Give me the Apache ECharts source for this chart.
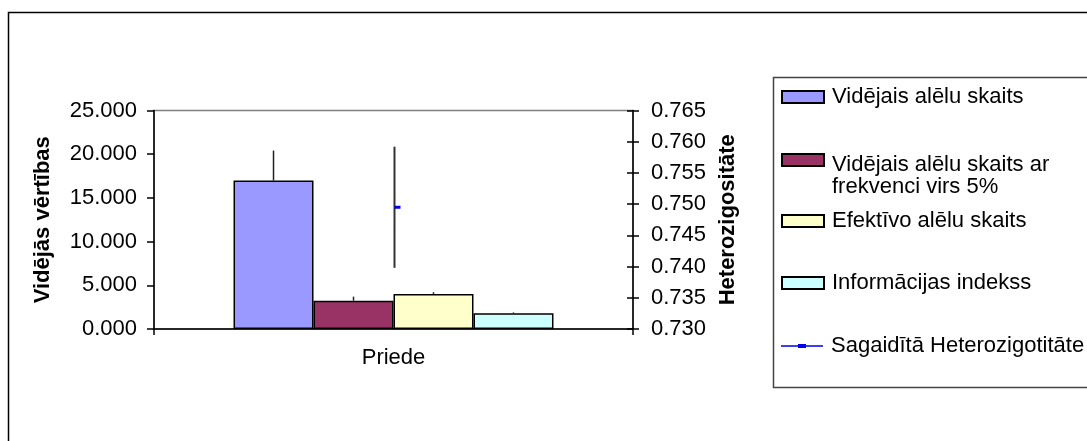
<!DOCTYPE html>
<html>
<head>
<meta charset="utf-8">
<script src="https://cdn.jsdelivr.net/npm/echarts@6/dist/echarts.min.js"></script>
<style>
html,body{margin:0;padding:0;background:#fff;}
#chart{width:1087px;height:441px;}
</style>
</head>
<body>
<div id="chart"></div>
<script>
// ---- data ----
const categories = ['Priede'];
const barNames = ['Vidējais alēlu skaits', 'Vidējais alēlu skaits ar frekvenci virs 5%', 'Efektīvo alēlu skaits', 'Informācijas indekss'];
const barValues = [16.98, 3.24, 4.01, 1.80];
const barErrors = [3.44, 0.46, 0.20, 0.10];
const hetName = 'Sagaidītā Heterozigotitāte';
const hetValues = [0.7495];
const hetErrors = [0.0097];
const leftTicks = [0, 25, 5];
const rightTicks = [0.73, 0.765, 0.005];

const FONT = "'Liberation Sans', Arial, sans-serif";
const barColors = ['#9999FF', '#993366', '#FFFFCC', '#CCFFFF'];
const CAT_GAP = 0.332;

const chart = echarts.init(document.getElementById('chart'), null, {renderer: 'canvas'});

const series = [];
barNames.forEach((n, i) => {
  series.push({
    name: n,
    type: 'bar',
    xAxisIndex: 0,
    yAxisIndex: 0,
    data: [barValues[i]],
    barGap: '0%',
    barCategoryGap: (CAT_GAP * 100) + '%',
    itemStyle: {color: barColors[i], borderColor: '#000', borderWidth: 1.5},
    emphasis: {disabled: true},
    z: 2
  });
});

// bar error bars (plus direction only)
series.push({
  type: 'custom',
  xAxisIndex: 0,
  yAxisIndex: 0,
  silent: true,
  z: 5,
  data: barValues.map((v, i) => [0, v, barErrors[i], i]),
  renderItem: function (params, api) {
    const cx = api.coord([api.value(0), 0])[0];
    const band = api.size([1, 0])[0];
    const bw = band * (1 - CAT_GAP) / barValues.length;
    const idx = api.value(3);
    const x = cx + (idx - (barValues.length - 1) / 2) * bw;
    const y1 = api.coord([0, api.value(1)])[1];
    const y2 = api.coord([0, api.value(1) + api.value(2)])[1];
    return {type: 'line', shape: {x1: x, y1: y1, x2: x, y2: y2}, style: {stroke: '#222', lineWidth: 1.5}};
  }
});

// heterozygosity error bar (both directions)
series.push({
  type: 'custom',
  xAxisIndex: 0,
  yAxisIndex: 1,
  silent: true,
  z: 5,
  data: hetValues.map((v, i) => [i, v, hetErrors[i]]),
  renderItem: function (params, api) {
    const x = api.coord([api.value(0), api.value(1)])[0] + 1;
    const y1 = api.coord([0, api.value(1) - api.value(2)])[1];
    const y2 = api.coord([0, api.value(1) + api.value(2)])[1];
    return {type: 'line', shape: {x1: x, y1: y1, x2: x, y2: y2}, style: {stroke: '#333', lineWidth: 2}};
  }
});

series.push({
  name: hetName,
  type: 'line',
  xAxisIndex: 0,
  yAxisIndex: 1,
  data: hetValues,
  symbol: 'rect',
  symbolSize: [6, 3],
  symbolOffset: [4, 0],
  showSymbol: true,
  lineStyle: {color: '#0000FF', width: 1.5},
  itemStyle: {color: '#0000EE'},
  emphasis: {disabled: true},
  z: 6
});

const textBase = {fontFamily: FONT, fontSize: 22, color: '#000'};

function legendAt(name, top, extra) {
  return Object.assign({
    data: [name],
    left: 781,
    top: top,
    orient: 'vertical',
    padding: 0,
    icon: 'rect',
    itemWidth: 42,
    itemHeight: 12,
    itemGap: 0,
    selectedMode: false,
    textStyle: Object.assign({}, textBase, {lineHeight: 22, padding: [0, 0, 0, 3]})
  }, extra || {});
}

const option = {
  animation: false,
  backgroundColor: '#fff',
  textStyle: {fontFamily: FONT},
  grid: {left: 154, right: 454, top: 110.5, bottom: 112, show: true, borderColor: '#808080', borderWidth: 1.5, backgroundColor: 'transparent'},
  xAxis: [{
    type: 'category',
    data: categories,
    boundaryGap: true,
    axisLine: {lineStyle: {color: '#000', width: 1.5}},
    axisTick: {show: true, length: 6, lineStyle: {color: '#000', width: 1.5}},
    axisLabel: Object.assign({}, textBase, {margin: 18}),
    splitLine: {show: false}
  }],
  yAxis: [{
    type: 'value',
    position: 'left',
    min: leftTicks[0], max: leftTicks[1], interval: leftTicks[2],
    name: 'Vidējās vērtības',
    nameLocation: 'middle',
    nameRotate: 90,
    nameGap: 100,
    nameTextStyle: Object.assign({}, textBase, {fontWeight: 'bold'}),
    axisLine: {show: true, lineStyle: {color: '#000', width: 1.5}},
    axisTick: {show: true, length: 7, lineStyle: {color: '#000', width: 1.5}},
    axisLabel: Object.assign({}, textBase, {margin: 17, formatter: v => v.toFixed(3)}),
    splitLine: {show: false}
  }, {
    type: 'value',
    position: 'right',
    min: rightTicks[0], max: rightTicks[1], interval: rightTicks[2],
    name: 'Heterozigositāte',
    nameLocation: 'middle',
    nameRotate: 90,
    nameGap: 84,
    nameTextStyle: Object.assign({}, textBase, {fontWeight: 'bold'}),
    axisLine: {show: true, lineStyle: {color: '#000', width: 1.5}},
    axisTick: {show: true, length: 6, lineStyle: {color: '#000', width: 1.5}},
    axisLabel: Object.assign({}, textBase, {margin: 18, formatter: v => v.toFixed(3)}),
    splitLine: {show: false}
  }, {
    type: 'value',
    position: 'right',
    min: rightTicks[0], max: rightTicks[1], interval: rightTicks[2],
    axisLine: {show: false},
    axisTick: {show: true, inside: true, length: 6, lineStyle: {color: '#000', width: 1.5}},
    axisLabel: {show: false},
    splitLine: {show: false}
  }],
  legend: [
    legendAt(barNames[0], 86),
    legendAt(barNames[1], 122, {
      formatter: () => '{e| }\n{t|Vidējais alēlu skaits ar}\n{t|frekvenci virs 5%}',
      textStyle: Object.assign({}, textBase, {
        lineHeight: 22,
        padding: [0, 0, 0, 3],
        rich: {
          e: {fontSize: 2, lineHeight: 32},
          t: {fontFamily: FONT, fontSize: 22, lineHeight: 22, color: '#000'}
        }
      })
    }),
    legendAt(barNames[2], 210),
    legendAt(barNames[3], 272),
    legendAt(hetName, 335, {
      icon: 'path://M0,1.3L17,1.3L17,0L25,0L25,1.3L42,1.3L42,2.7L25,2.7L25,4L17,4L17,2.7L0,2.7Z',
      itemHeight: 4,
      itemStyle: {color: '#0000EE', borderWidth: 0}
    })
  ],
  graphic: [
    {type: 'rect', z: -1, silent: true, shape: {x: 8.5, y: 12.5, width: 1200, height: 600}, style: {fill: 'none', stroke: '#000', lineWidth: 1.5}},
    {type: 'rect', z: -1, silent: true, shape: {x: 773.5, y: 77.5, width: 400, height: 310}, style: {fill: 'none', stroke: '#444', lineWidth: 1.5}}
  ],
  series: series
};

chart.setOption(option);
</script>
</body>
</html>
